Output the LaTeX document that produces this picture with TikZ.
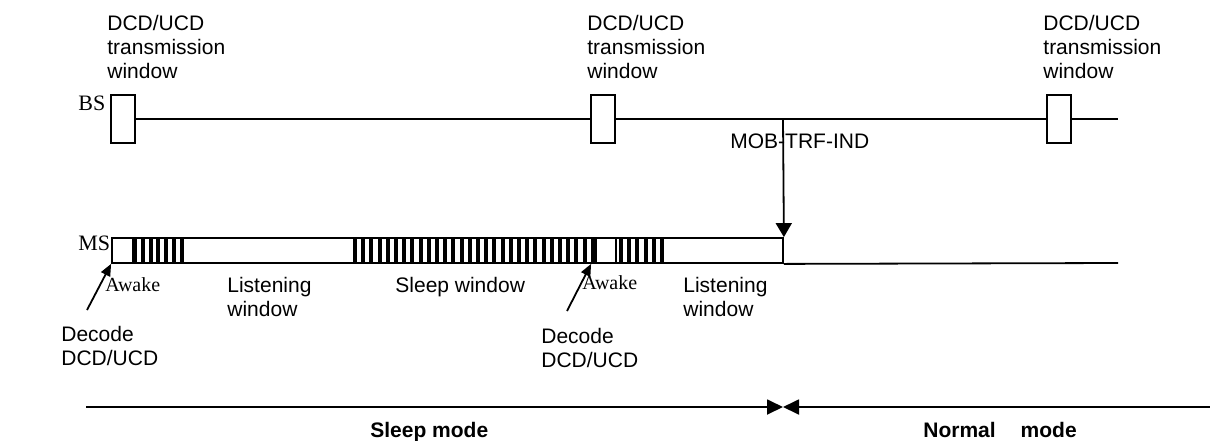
\documentclass[tikz,border=0pt]{standalone}
\usepackage{fontspec}
\setmainfont{Liberation Serif}
\setsansfont{Liberation Sans}
\usepackage{tikz}
\usetikzlibrary{arrows.meta, positioning}
\tikzstyle{winbox} = [rectangle, draw=black, line width=0.9pt, minimum width=12pt, minimum height=24pt, inner sep=0pt]
\tikzstyle{awakebox} = [rectangle, draw=black, line width=0.9pt, minimum height=12.5pt, inner sep=0pt, fill=white]
\tikzstyle{msbarbox} = [rectangle, draw=black, line width=0.9pt, minimum width=335.5pt, minimum height=12.5pt, inner sep=0pt]
\tikzstyle{txt} = [inner sep=0pt, align=left, font=\sffamily\fontsize{10.5}{12}\selectfont]
\tikzstyle{sertxt} = [inner sep=0pt, font=\rmfamily\fontsize{11}{13}\selectfont]
\tikzstyle{modetxt} = [inner sep=0pt, font=\sffamily\bfseries\fontsize{10.5}{12}\selectfont]
\tikzstyle{timeline} = [line width=0.9pt, draw=black]
\tikzstyle{arrow} = [line width=0.9pt, -{Triangle[length=7pt, width=8pt]}, draw=black]
\tikzstyle{thinarrow} = [line width=0.9pt, -{Triangle[length=6pt, width=5pt]}, draw=black]
\tikzstyle{modearrow} = [line width=0.9pt, -{Triangle[length=8pt, width=7.5pt]}, draw=black]

\begin{document}
\begin{tikzpicture}[x=0.5pt, y=-0.5pt]
\useasboundingbox (0,0) rectangle (1210,440);

\node (win1) [txt, anchor=north west] at (107,15) {DCD/UCD\\transmission\\window};
\node (win2) [txt, anchor=north west] at (587,15) {DCD/UCD\\transmission\\window};
\node (win3) [txt, anchor=north west] at (1043,15) {DCD/UCD\\transmission\\window};

\node (bs) [sertxt, anchor=west] at (78,103) {BS};
\node (ms) [sertxt, anchor=west] at (78,243) {MS};

\node (box1) [winbox] at (123,119) {};
\node (box2) [winbox] at (603,119) {};
\node (box3) [winbox] at (1059,119) {};
\coordinate (bsend) at (1118,119);

\draw [timeline] (box1) -- (box2);
\draw [timeline] (box2) -- (box3);
\draw [timeline] (box3) -- (bsend);

\node (msbar) [msbarbox] at (447.5,250.5) {};
\coordinate (msend) at (1118,263);
\draw [timeline] (msbar.south east) -- (msend);

\foreach \i in {0,...,6}
  \fill (135+\i*7.8-2,238) rectangle (135+\i*7.8+2,263);
\foreach \i in {0,...,29}
  \fill (355+\i*8.2-2,238) rectangle (355+\i*8.2+2,263);
\foreach \i in {0,...,5}
  \fill (621+\i*8.2-2,238) rectangle (621+\i*8.2+2,263);

\node (awake1) [awakebox, minimum width=10.5pt] at (122.5,250.5) {};
\node (awake2) [awakebox, minimum width=10pt] at (606,250.5) {};

\node (mob) [txt, anchor=west] at (730,141) {MOB-TRF-IND};
\coordinate (trf) at (783,119);
\draw [arrow] (trf) -- (msbar.north east);

\node (awaketxt1) [sertxt, anchor=north west, font=\rmfamily\fontsize{10}{12}\selectfont] at (105,277) {Awake};
\node (awaketxt2) [sertxt, anchor=north west, font=\rmfamily\fontsize{10}{12}\selectfont] at (582,275) {Awake};
\node (listen1) [txt, anchor=north west] at (227,277) {Listening\\window};
\node (sleepwin) [txt, anchor=north west] at (395,277) {Sleep window};
\node (listen2) [txt, anchor=north west] at (683,277) {Listening\\window};

\node (decode1) [txt, anchor=north west] at (61,326) {Decode\\DCD/UCD};
\node (decode2) [txt, anchor=north west] at (541,328) {Decode\\DCD/UCD};
\coordinate (dectail1) at (87,310);
\coordinate (dectail2) at (567,311);
\draw [thinarrow] (dectail1) -- (awake1.south west);
\draw [thinarrow] (dectail2) -- ([xshift=-2pt]awake2.south west);

\coordinate (sleepstart) at (86,407);
\coordinate (modeswitch) at (783,407);
\coordinate (normalend) at (1210,407);
\draw [modearrow] (sleepstart) -- (modeswitch);
\draw [modearrow] (normalend) -- (modeswitch);

\node (sleepmode) [modetxt, anchor=base west] at (370,437) {Sleep mode};
\node (normalmode) [modetxt, anchor=base west] at (923,437) {Normal\hspace{12.5pt}mode};

\end{tikzpicture}
\end{document}
